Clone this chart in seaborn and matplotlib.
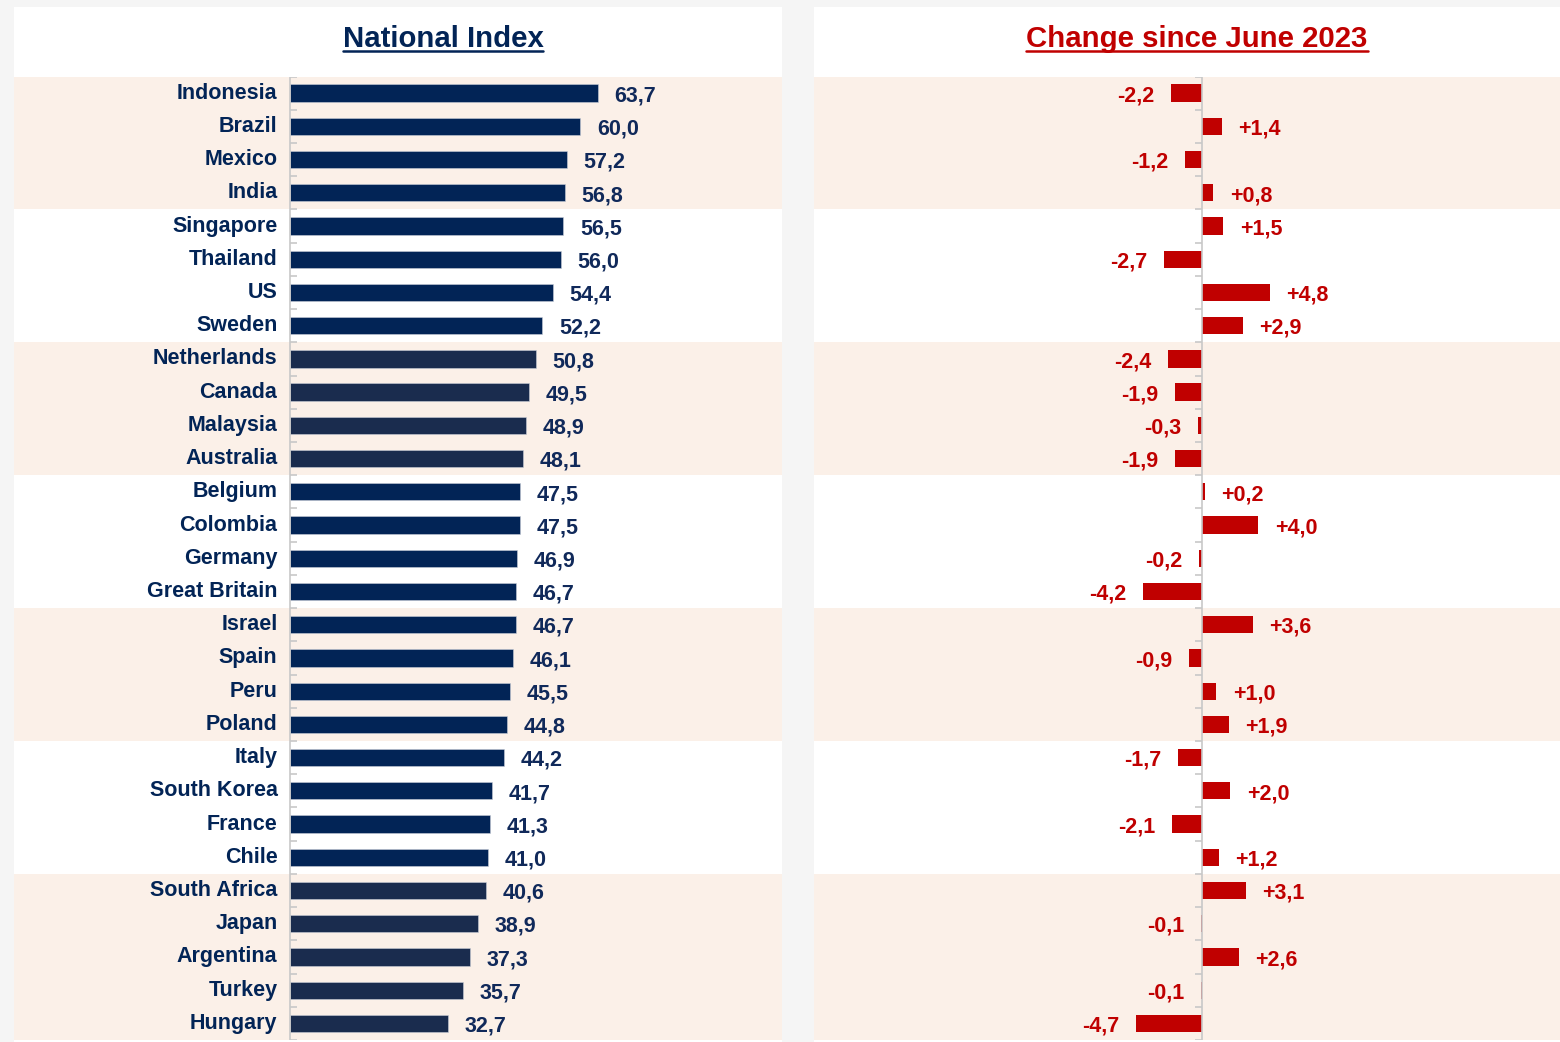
#!/usr/bin/env python3
import matplotlib
matplotlib.use("Agg")
import matplotlib.pyplot as plt
from matplotlib.patches import Rectangle
from matplotlib.lines import Line2D
import seaborn as sns
import pandas as pd

# ============ DATA ============
COUNTRIES = ["Indonesia", "Brazil", "Mexico", "India", "Singapore", "Thailand", "US",
             "Sweden", "Netherlands", "Canada", "Malaysia", "Australia", "Belgium",
             "Colombia", "Germany", "Great Britain", "Israel", "Spain", "Peru", "Poland",
             "Italy", "South Korea", "France", "Chile", "South Africa", "Japan",
             "Argentina", "Turkey", "Hungary"]
INDEX = [63.7, 60.0, 57.2, 56.8, 56.5, 56.0, 54.4, 52.2, 50.8, 49.5, 48.9, 48.1, 47.5,
         47.5, 46.9, 46.7, 46.7, 46.1, 45.5, 44.8, 44.2, 41.7, 41.3, 41.0, 40.6, 38.9,
         37.3, 35.7, 32.7]
CHANGE = [-2.2, 1.4, -1.2, 0.8, 1.5, -2.7, 4.8, 2.9, -2.4, -1.9, -0.3, -1.9, 0.2,
          4.0, -0.2, -4.2, 3.6, -0.9, 1.0, 1.9, -1.7, 2.0, -2.1, 1.2, 3.1, -0.1,
          2.6, -0.1, -4.7]
# shaded row groups (first, last)
BANDS = [(0, 3), (8, 11), (16, 19), (24, 28)]
# rows drawn in the greyer navy
GREY_ROWS = list(range(8, 12)) + list(range(24, 29))
TITLE_LEFT = "National Index"
TITLE_RIGHT = "Change since June 2023"
# ==============================

NAVY = "#022456"
NAVY_GREY = "#1a2c4e"
RED = "#c00000"
BEIGE = "#fbf0e8"
AXIS_GREY = "#c8c8c8"

W, H = 1560, 1042
sns.set_theme(style="white")
plt.rcParams["font.family"] = ["Liberation Sans", "DejaVu Sans"]

fig = plt.figure(figsize=(W / 100, H / 100), dpi=100)
fig.patch.set_facecolor("#f5f5f5")


def fx(px):
    return px / W


def fy(py):
    return 1 - py / H


# white cards
for x0, x1 in [(14, 782), (814, 1560)]:
    fig.patches.append(Rectangle((fx(x0), 0), fx(x1 - x0), fy(7), transform=fig.transFigure,
                                 facecolor="white", edgecolor="none", zorder=-1))

top_px, bot_px = 76.5, 1040
n = len(COUNTRIES)
df = pd.DataFrame({"country": COUNTRIES, "index": INDEX, "change": CHANGE})

# ---------- left panel ----------
axL = fig.add_axes([fx(14), fy(bot_px), fx(768), (bot_px - top_px) / H])
colors = [NAVY_GREY if i in GREY_ROWS else NAVY for i in range(n)]
sns.barplot(data=df, x="index", y="country", hue="country", palette=colors, legend=False,
            width=0.52, orient="h", ax=axL, saturation=1, edgecolor="#c9ced8", linewidth=0.4)
scaleL = 308 / 63.7
axL.set_xlim(-(290 - 14) / scaleL, (782 - 290) / scaleL)

# ---------- right panel ----------
axR = fig.add_axes([fx(814), fy(bot_px), fx(746), (bot_px - top_px) / H])
sns.barplot(data=df, x="change", y="country", color=RED, width=0.52, orient="h", ax=axR,
            saturation=1, edgecolor="none")
scaleR = 14.1
axR.set_xlim(-(1202 - 814) / scaleR, (1560 - 1202) / scaleR)

for ax, tick_len in [(axL, 7 / scaleL), (axR, -7 / scaleR)]:
    ax.set_facecolor("none")
    ax.set_ylim(n - 0.5, -0.5)
    for s in ax.spines.values():
        s.set_visible(False)
    ax.set_xticks([])
    ax.set_yticks([])
    ax.set_xlabel("")
    ax.set_ylabel("")
    for a, b in BANDS:
        ax.axhspan(a - 0.5, b + 0.5, color=BEIGE, zorder=0, lw=0)
    ax.axvline(0, color=AXIS_GREY, lw=1.2, zorder=3)
    ax.hlines([i - 0.5 for i in range(n + 1)], 0, tick_len, color=AXIS_GREY, lw=1.2, zorder=3)

lab_font = dict(fontsize=15.5, fontweight="bold")
for i, (c, v, d) in enumerate(zip(COUNTRIES, INDEX, CHANGE)):
    axL.annotate(c, (0, i), xytext=(-9, 0), textcoords="offset points", ha="right",
                 va="center", color=NAVY, **lab_font)
    axL.annotate(f"{v:.1f}".replace(".", ","), (v, i), xytext=(12, -2),
                 textcoords="offset points", ha="left", va="center", color="#10295a", **lab_font)
    txt = f"{d:+.1f}".replace(".", ",")
    off = 12 if d >= 0 else -12
    axR.annotate(txt, (d, i), xytext=(off, -2), textcoords="offset points",
                 ha="left" if d >= 0 else "right", va="center", color=RED, **lab_font)

# titles with underline
fig.canvas.draw()
renderer = fig.canvas.get_renderer()
for cx, title, col in [(443, TITLE_LEFT, NAVY), (1197, TITLE_RIGHT, RED)]:
    t = fig.text(fx(cx), fy(47), title, ha="center", va="baseline", fontsize=21.2,
                 fontweight="bold", color=col)
    bb = t.get_window_extent(renderer)
    fig.lines.append(Line2D([bb.x0 / W, bb.x1 / W], [fy(50.5), fy(50.5)],
                            transform=fig.transFigure, color=col, lw=1.8))

fig.savefig("out.png", dpi=100, facecolor=fig.get_facecolor())
